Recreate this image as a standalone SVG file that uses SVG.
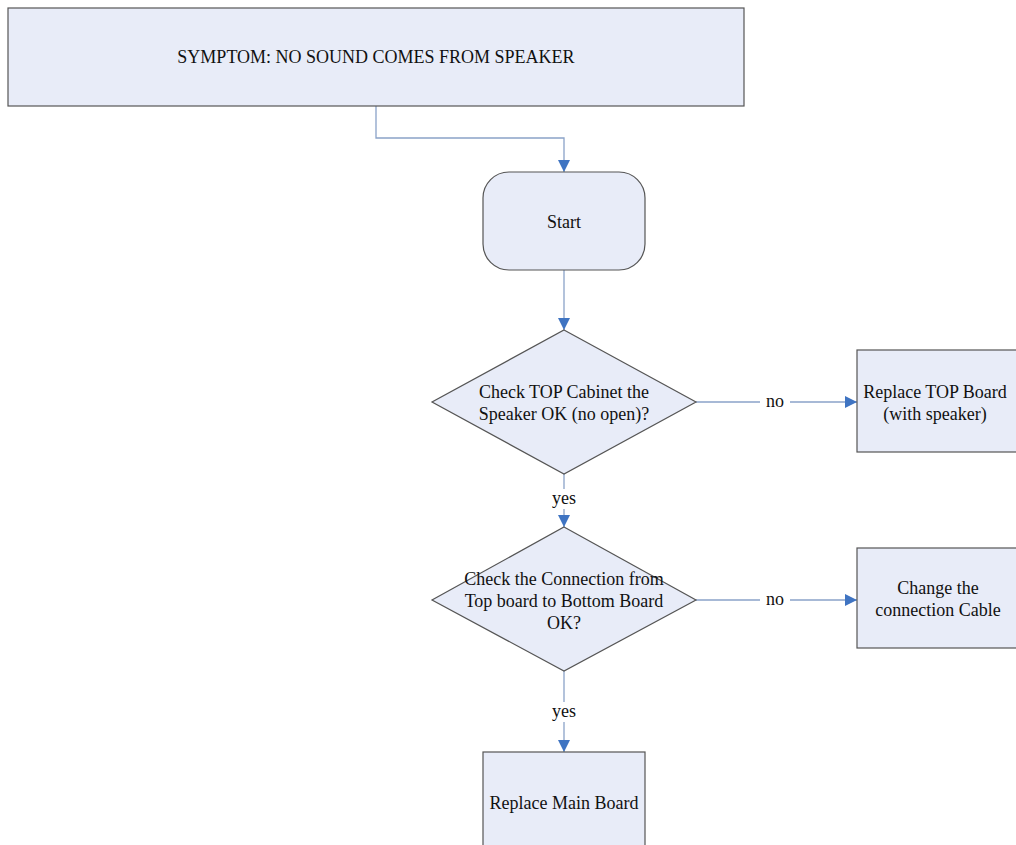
<svg xmlns="http://www.w3.org/2000/svg" width="1016" height="845" viewBox="0 0 1016 845">
<defs>
<marker id="arr" viewBox="0 0 10 10" refX="10" refY="5" markerWidth="12" markerHeight="12" markerUnits="userSpaceOnUse" orient="auto">
<path d="M0,0 L10,5 L0,10 z" fill="#3f74c2"/>
</marker>
<style>
.n{fill:#e8ecf8;stroke:#555;stroke-width:1.2}
.c{fill:none;stroke:#8aa2c8;stroke-width:1.3;marker-end:url(#arr)}
.bg{fill:#fff}
text{fill:#111;text-anchor:middle}
</style>
</defs>
<rect width="1016" height="845" fill="#fff"/>
<g font-family="Liberation Serif, serif" font-size="18">
<g id="connectors">
<path class="c" d="M376,106 V138 H564 V172"/>
<path class="c" d="M564,270 V330"/>
<path class="c" d="M696,402 H857"/>
<path class="c" d="M564,474 V527"/>
<path class="c" d="M696,600 H857"/>
<path class="c" d="M564,671 V752"/>
<rect class="bg" x="760" y="392" width="30" height="18"/>
<text x="775" y="407">no</text>
<rect class="bg" x="547" y="489" width="34" height="20"/>
<text x="564" y="504">yes</text>
<rect class="bg" x="760" y="590" width="30" height="18"/>
<text x="775" y="605">no</text>
<rect class="bg" x="547" y="702" width="34" height="20"/>
<text x="564" y="717">yes</text>
</g>
<g id="symptom">
<rect class="n" x="8" y="8" width="736" height="98"/>
<text x="376" y="63">SYMPTOM: NO SOUND COMES FROM SPEAKER</text>
</g>
<g id="start">
<rect class="n" x="483" y="172" width="162" height="98" rx="26" ry="26"/>
<text x="564" y="228">Start</text>
</g>
<g id="check1">
<polygon class="n" points="564,330 696,402 564,474 432,402"/>
<text x="564" y="398">Check TOP Cabinet the</text>
<text x="564" y="420">Speaker OK (no open)?</text>
</g>
<g id="replaceTop">
<rect class="n" x="857" y="350" width="170" height="102"/>
<text x="935" y="398">Replace TOP Board</text>
<text x="935" y="420">(with speaker)</text>
</g>
<g id="check2">
<polygon class="n" points="564,527 696,600 564,671 432,600"/>
<text x="564" y="585">Check the Connection from</text>
<text x="564" y="607">Top board to Bottom Board</text>
<text x="564" y="629">OK?</text>
</g>
<g id="changeCable">
<rect class="n" x="857" y="548" width="170" height="100"/>
<text x="938" y="594">Change the</text>
<text x="938" y="616">connection Cable</text>
</g>
<g id="replaceMain">
<rect class="n" x="483" y="752" width="162" height="110"/>
<text x="564" y="809">Replace Main Board</text>
</g>
</g>
</svg>
